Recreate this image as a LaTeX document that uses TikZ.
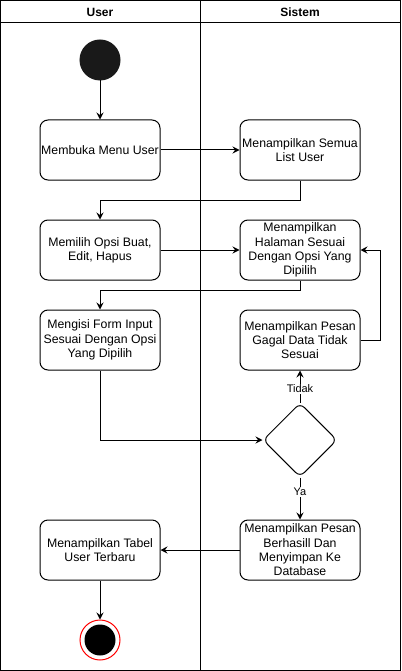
\documentclass[tikz,border=0pt]{standalone}
\usepackage{fontspec}
\setmainfont{Liberation Sans}
\usetikzlibrary{shapes.geometric,arrows.meta}
\begin{document}
\begin{tikzpicture}[x=1pt,y=-1pt,
  line width=1pt,
  box/.style={draw,rectangle,rounded corners=8pt,minimum width=120pt,minimum height=60pt,align=center,font=\fontsize{12.3}{14.3}\selectfont,inner sep=1pt},
  arr/.style={-{Stealth[length=7pt,width=7pt,inset=2.5pt]}},
  lbl/.style={fill=white,font=\fontsize{11}{13}\selectfont,inner sep=1pt},
  hdr/.style={font=\bfseries\fontsize{12}{14}\selectfont}]
\useasboundingbox (0,0) rectangle (401,671);
% swimlanes
\draw (0.5,0.5) rectangle (400.5,670.5);
\draw (0.5,23) -- (400.5,23);
\draw (200.5,0.5) -- (200.5,670.5);
\node[hdr] (hu) at (100,12.5) {User};
\node[hdr] (hs) at (300,12.5) {Sistem};
% nodes
\node[circle,fill=black!90,draw=black!90,minimum size=40pt,inner sep=0] (start) at (100,60) {};
\node[box] (b1) at (100,150) {Membuka Menu User};
\node[box] (b2) at (300,150) {Menampilkan Semua\\List User};
\node[box] (b3) at (100,250) {Memilih Opsi Buat,\\Edit, Hapus};
\node[box] (b4) at (300,250) {Menampilkan\\Halaman Sesuai\\Dengan Opsi Yang\\Dipilih};
\node[box] (b5) at (100,340) {Mengisi Form Input\\Sesuai Dengan Opsi\\Yang Dipilih};
\node[box] (b6) at (300,340) {Menampilkan Pesan\\Gagal Data Tidak\\Sesuai};
\node[draw,diamond,rounded corners=6pt,minimum width=74pt,minimum height=74pt,inner sep=0] (d) at (300,440) {};
\node[box] (b7) at (300,550) {Menampilkan Pesan\\Berhasill Dan\\Menyimpan Ke\\Database};
\node[box] (b8) at (100,550) {Menampilkan Tabel\\User Terbaru};
\node[circle,draw=red,fill=white,minimum size=40pt,inner sep=0] (endo) at (100,640) {};
\node[circle,fill=black,minimum size=31pt,inner sep=0] (endi) at (100,640) {};
% connectors
\draw[arr] (start) -- (b1);
\draw[arr] (b1) -- (b2);
\draw[arr] (b2.south) -- ++(0,20) -| (b3.north);
\draw[arr] (b3) -- (b4);
\draw[arr] (b4.south) -- ++(0,10) -| (b5.north);
\draw[arr] (b6.east) -- ++(20,0) |- (b4.east);
\draw[arr] (b5.south) |- (d.west);
\draw[arr] (d.north) -- node[lbl,pos=0.42] {Tidak} (b6.south);
\draw[arr] (d.south) -- node[lbl,pos=0.35] {Ya} (b7.north);
\draw[arr] (b7) -- (b8);
\draw[arr] (b8) -- (endo);
\end{tikzpicture}
\end{document}
